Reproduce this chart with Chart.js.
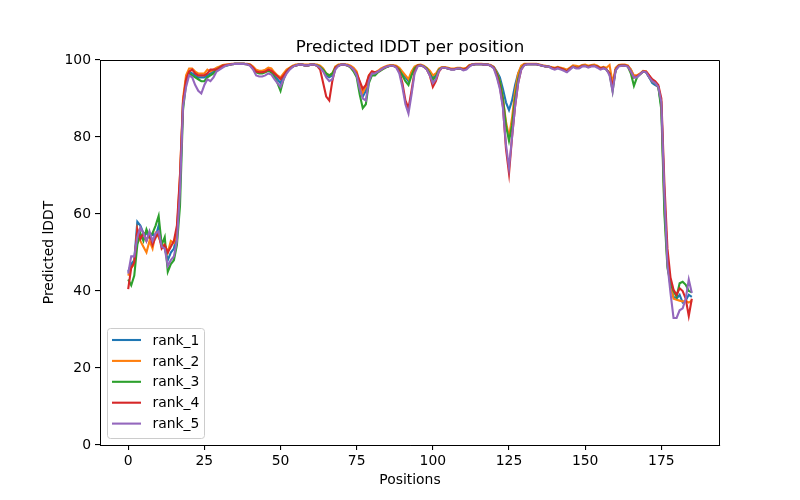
<!DOCTYPE html>
<html>
<head>
<meta charset="utf-8">
<script src="https://cdn.jsdelivr.net/npm/chart.js@4.4.1/dist/chart.umd.min.js"></script>
<style>
  html, body { margin: 0; padding: 0; background: #fff; }
  canvas { display: block; }
</style>
</head>
<body>
<canvas id="myChart" width="800" height="500"></canvas>
<script>
// chart data
var seriesNames = ['rank_1', 'rank_2', 'rank_3', 'rank_4', 'rank_5'];
var seriesColors = ['#1f77b4', '#ff7f0e', '#2ca02c', '#d62728', '#9467bd'];
var xTicks = [0, 25, 50, 75, 100, 125, 150, 175];
var yTicks = [0, 20, 40, 60, 80, 100];

var rank1 = [
  45, 47, 48, 58, 57, 55, 55, 54, 55, 54,
  57, 52, 51, 48, 50, 51, 55, 68, 89, 95,
  97, 96.5, 96, 95.5, 95.5, 95.5, 96, 96.5, 97, 97.5,
  98, 98.5, 98.5, 98.7, 98.9, 99, 99, 99, 99, 98.9,
  98.7, 98, 97.2, 96.8, 96.8, 97, 97.5, 97, 96, 95,
  94, 96, 97, 97.8, 98.3, 98.6, 98.8, 98.8, 98.6, 98.6,
  98.8, 98.8, 98.6, 98.2, 97.5, 96, 95.5, 96, 98, 98.6,
  98.8, 98.8, 98.6, 98.2, 97.5, 96.5, 93, 90.5, 92, 95.5,
  96.8, 96.5, 97, 97.5, 98, 98.3, 98.5, 98.5, 98.3, 97.8,
  96.5, 95.5, 94.5, 96.5, 98, 98.5, 98.6, 98.3, 97.8, 96.8,
  95.3, 96, 97.5, 98, 98, 97.8, 97.6, 97.6, 97.8, 97.8,
  97.5, 97.8, 98.5, 98.8, 98.9, 98.9, 98.9, 98.8, 98.8, 98.6,
  98.2, 97, 95.5, 92.5, 89, 87, 89.5, 93.5, 96.5, 98.2,
  98.8, 98.9, 98.9, 98.9, 98.9, 98.7, 98.5, 98.3, 98.3, 98,
  97.8, 98, 97.8, 97.5, 97, 97.8, 98.3, 98, 98, 98.5,
  98.5, 98.2, 98.5, 98.5, 98.3, 97.8, 98, 97.5, 96.5, 93,
  97.5, 98.5, 98.6, 98.6, 98.4, 97.5, 95.5, 95.8, 96.3, 97,
  96.8, 95.5, 94, 93.5, 93, 88, 64, 48, 41, 38.5,
  38, 39, 37, 37.5, 39, 38.5
];
var rank2 = [
  44, 46, 47, 56, 53, 51.5, 50, 53, 51, 55,
  54, 52, 52, 50, 53, 52.5, 55, 70, 90, 96,
  97.8, 97.8, 97, 96.5, 96.5, 96.5, 97.5, 97, 97.5, 98,
  98.3, 98.7, 98.8, 98.9, 99, 99, 99, 99, 99, 99,
  98.9, 98.3, 97.5, 97.2, 97.2, 97.5, 98, 97.8, 96.8, 96,
  95.5, 96.5, 97.5, 98, 98.5, 98.8, 98.9, 98.9, 98.8, 98.8,
  98.9, 98.9, 98.8, 98.5, 97.8, 96.5, 96, 96.5, 98.3, 98.8,
  98.9, 98.9, 98.8, 98.5, 98, 97, 94, 91.5, 93, 96,
  97, 96.8, 97.2, 97.8, 98.2, 98.5, 98.7, 98.7, 98.5, 98,
  97, 96, 95, 97, 98.3, 98.7, 98.8, 98.5, 98, 97.2,
  96, 96.5, 97.8, 98.2, 98.2, 98, 97.8, 97.8, 98, 98,
  97.8, 98, 98.7, 98.9, 99, 99, 99, 98.9, 98.9, 98.7,
  98.2, 96.8, 94.5, 90, 84, 80, 85, 92, 96.5, 98.5,
  99, 99, 99, 99, 99, 98.8, 98.6, 98.5, 98.3, 98.2,
  98, 98.2, 98, 97.8, 97.5, 98, 98.6, 98.5, 98.3, 98.7,
  98.8, 98.5, 98.7, 98.8, 98.5, 98, 98.2, 98, 98.7, 94,
  98, 98.7, 98.8, 98.8, 98.6, 97.5, 96, 96, 96.5, 97.2,
  97, 96, 94.5, 94, 93, 89, 62, 47, 42, 38,
  37.7, 37.5, 37.3, 37.5, 37, 37.5
];
var rank3 = [
  43, 41.5, 44, 52, 55, 53, 56, 54, 55, 57,
  59.5, 52, 54, 45, 47, 48, 52, 62, 87, 94,
  96.5, 96, 95.5, 95, 94.5, 94.5, 95.5, 96, 96.5, 97.5,
  98, 98.5, 98.5, 98.7, 98.9, 99, 99, 99, 99, 98.9,
  98.7, 97.8, 96.8, 96.5, 96.5, 96.8, 97.2, 96.8, 95.5, 94,
  92, 95, 97, 97.8, 98.3, 98.6, 98.8, 98.8, 98.6, 98.6,
  98.8, 98.8, 98.6, 98.2, 97.5, 96.5, 96, 96.5, 98, 98.6,
  98.8, 98.8, 98.6, 98, 97, 95.5, 91, 87.5, 88.5, 94,
  96, 96, 96.8, 97.3, 97.8, 98.2, 98.5, 98.5, 98.2, 97.5,
  96, 94.5, 93.5, 96, 97.8, 98.5, 98.6, 98.3, 97.8, 96.5,
  94.8, 95.8, 97.5, 98, 98, 97.8, 97.6, 97.6, 97.8, 97.8,
  97.5, 97.8, 98.5, 98.8, 98.9, 98.9, 98.9, 98.8, 98.8, 98.5,
  98, 96.5, 94.5, 90, 83, 79, 83, 90, 95, 97.8,
  98.8, 98.9, 98.9, 98.9, 98.9, 98.7, 98.5, 98.3, 98.3, 98,
  97.8, 98, 97.8, 97.5, 97, 97.8, 98.3, 98, 98, 98.5,
  98.5, 98.2, 98.5, 98.5, 98.3, 97.8, 98, 97.5, 96.5, 92,
  97.5, 98.5, 98.6, 98.6, 98.3, 96.5, 93.3, 95.5, 96.3, 97,
  96.8, 95.5, 94.5, 94, 93, 87, 60, 46, 42, 40,
  38.5, 42, 42.4, 41.6, 40, 39.7
];
var rank4 = [
  40.5, 46, 47.5, 56, 53.5, 55, 53, 55, 52, 54,
  55, 51, 52, 50, 51.5, 53, 57, 70, 89, 95,
  97, 97.5, 96.5, 96, 96, 96, 96.5, 97.5, 97.5, 97.5,
  98, 98.5, 98.7, 98.8, 98.9, 99, 99, 99, 99, 98.9,
  98.7, 98, 97, 96.8, 96.8, 97, 97.5, 97.2, 96.5, 95.8,
  95, 96, 97, 97.8, 98.3, 98.6, 98.8, 98.8, 98.6, 98.6,
  98.8, 98.8, 98.5, 97.5, 94, 90.5, 89.5, 94.5, 98, 98.5,
  98.8, 98.8, 98.6, 98.2, 97.5, 96.5, 94.5, 92.5, 93.5, 96,
  97, 96.8, 97, 97.5, 98, 98.3, 98.5, 98.5, 98.2, 97,
  94, 89.5, 87.5, 92, 97, 98.5, 98.6, 98.3, 97.5, 96,
  93, 94.5, 97, 98, 98, 97.8, 97.6, 97.6, 97.8, 97.8,
  97.5, 97.8, 98.5, 98.8, 98.9, 98.9, 98.9, 98.8, 98.8, 98.5,
  98, 96, 93, 88, 77, 70.5, 80, 88, 94, 97.5,
  98.8, 98.9, 98.9, 98.9, 98.9, 98.7, 98.5, 98.3, 98.3, 98,
  97.8, 98, 97.8, 97.5, 97, 97.8, 98.3, 98, 98, 98.5,
  98.5, 98.2, 98.5, 98.5, 98.3, 97.8, 98, 97.5, 96.5, 93,
  97.5, 98.5, 98.6, 98.6, 98.4, 97, 95.5, 95.8, 96.3, 97,
  97, 96, 95, 94.5, 93.5, 90, 68, 51, 43.5, 40.3,
  39, 40.7, 40, 38, 33.5, 38
];
var rank5 = [
  44.5, 49, 49, 54, 56.5, 55, 53, 55.5, 53, 55,
  55.5, 51.5, 51, 46.5, 48, 49, 53, 66, 88, 93,
  96, 95.5, 93.5, 92, 91.3, 93.5, 95, 94.5, 95.5, 97,
  97.5, 98, 98.5, 98.7, 98.9, 99, 99, 99, 99, 98.9,
  98.5, 97.5, 96, 95.7, 95.7, 96, 96.5, 96.2, 95, 94,
  93, 95, 96.5, 97.5, 98.2, 98.6, 98.8, 98.8, 98.6, 98.6,
  98.8, 98.8, 98.5, 98, 97, 95.5, 94.5, 95, 97.5, 98.5,
  98.8, 98.8, 98.6, 98.2, 97.5, 96, 92.5, 90, 89.5, 94.5,
  96.5, 96.5, 97, 97.5, 98, 98.3, 98.5, 98.5, 98, 96.5,
  93, 88.5, 86.1, 91, 96.5, 98.3, 98.6, 98.3, 97.5, 96,
  94, 95, 97.2, 98, 98, 97.8, 97.5, 97.5, 97.8, 97.8,
  97.3, 97.5, 98.3, 98.8, 98.9, 98.9, 98.9, 98.8, 98.8, 98.5,
  97.8, 95.5, 92.5, 87.5, 78, 72, 80, 88, 94, 97.5,
  98.6, 98.9, 98.9, 98.9, 98.9, 98.7, 98.5, 98.3, 98.3, 97.8,
  97.5, 97.8, 97.5, 97.2, 96.8, 97.5, 98.2, 97.8, 97.8, 98.3,
  98.4, 98, 98.3, 98.4, 98, 97.5, 97.8, 97.5, 96, 91.8,
  97.3, 98.3, 98.5, 98.5, 98.3, 97, 95.5, 95.5, 96.3, 97,
  96.8, 95.5, 94.5, 94, 93, 89, 65, 47, 39.5, 33,
  33, 35, 35.5, 38, 43, 39.5
];
var seriesValues = [rank1, rank2, rank3, rank4, rank5];
var positions = rank1.map(function (v, i) { return i; });

document.addEventListener('DOMContentLoaded', function () {
    var ctx = document.getElementById('myChart').getContext('2d');
    var FONT = 'DejaVu Sans, Liberation Sans, sans-serif';
    Chart.defaults.font.family = FONT;
    Chart.defaults.color = '#000';

    var datasets = seriesNames.map(function (name, k) {
        return {
            label: name,
            data: seriesValues[k].map(function (v, i) { return { x: positions[i], y: v }; }),
            borderColor: seriesColors[k],
            backgroundColor: seriesColors[k],
            borderWidth: 2.1,
            pointRadius: 0,
            tension: 0,
            fill: false,
            order: seriesNames.length - k // later ranks drawn on top like matplotlib
        };
    });

    // title, axis labels, top/right spines and the legend box drawn matplotlib style
    var decorations = {
        id: 'decorations',
        afterDraw: function (chart) {
            var c = chart.ctx, a = chart.chartArea;
            c.save();
            c.strokeStyle = '#000';
            c.lineWidth = 1;
            c.beginPath();
            c.moveTo(a.left, a.top + 0.5);
            c.lineTo(a.right - 0.5, a.top + 0.5);
            c.lineTo(a.right - 0.5, a.bottom);
            c.stroke();

            c.fillStyle = '#000';
            c.textAlign = 'center';
            c.font = '16.7px ' + FONT;
            c.textBaseline = 'alphabetic';
            c.fillText('Predicted lDDT per position', (a.left + a.right) / 2, a.top - 8.3);

            c.font = '13.9px ' + FONT;
            c.textBaseline = 'top';
            c.fillText('Positions', (a.left + a.right) / 2, 473);

            c.save();
            c.translate(49, (a.top + a.bottom) / 2);
            c.rotate(-Math.PI / 2);
            c.textBaseline = 'middle';
            c.fillText('Predicted lDDT', 0, 0);
            c.restore();

            // legend
            var bx = a.left + 7.5, by = 328.5, bw = 97, bh = 110, r = 3;
            c.beginPath();
            c.moveTo(bx + r, by);
            c.lineTo(bx + bw - r, by);
            c.quadraticCurveTo(bx + bw, by, bx + bw, by + r);
            c.lineTo(bx + bw, by + bh - r);
            c.quadraticCurveTo(bx + bw, by + bh, bx + bw - r, by + bh);
            c.lineTo(bx + r, by + bh);
            c.quadraticCurveTo(bx, by + bh, bx, by + bh - r);
            c.lineTo(bx, by + r);
            c.quadraticCurveTo(bx, by, bx + r, by);
            c.closePath();
            c.fillStyle = 'rgba(255,255,255,0.8)';
            c.fill();
            c.strokeStyle = '#cccccc';
            c.lineWidth = 1;
            c.stroke();

            c.textAlign = 'left';
            c.textBaseline = 'middle';
            c.font = '13.9px ' + FONT;
            seriesNames.forEach(function (name, k) {
                var yy = 340 + k * 20.9;
                c.strokeStyle = seriesColors[k];
                c.lineWidth = 2.1;
                c.beginPath();
                c.moveTo(112, yy);
                c.lineTo(141, yy);
                c.stroke();
                c.fillStyle = '#000';
                c.fillText(name, 152.5, yy + 1);
            });
            c.restore();
        }
    };

    var myChart = new Chart(ctx, {
        type: 'line',
        data: { datasets: datasets },
        options: {
            responsive: false,
            animation: false,
            layout: { padding: { left: 0, right: 80, top: 60, bottom: 0 } },
            plugins: {
                legend: { display: false },
                title: { display: false },
                tooltip: { enabled: false }
            },
            scales: {
                x: {
                    type: 'linear',
                    min: -9.25,
                    max: 194.25,
                    afterBuildTicks: function (s) { s.ticks = xTicks.map(function (v) { return { value: v }; }); },
                    afterFit: function (s) { s.height = 55; },
                    grid: { drawOnChartArea: false, color: '#000', tickLength: 5, lineWidth: 1.1 },
                    border: { display: true, color: '#000', width: 1 },
                    ticks: { font: { size: 13.9 }, padding: 3, maxRotation: 0, autoSkip: false }
                },
                y: {
                    type: 'linear',
                    min: 0,
                    max: 100,
                    afterBuildTicks: function (s) { s.ticks = yTicks.map(function (v) { return { value: v }; }); },
                    afterFit: function (s) { s.width = 100; },
                    grid: { drawOnChartArea: false, color: '#000', tickLength: 5, lineWidth: 1.1 },
                    border: { display: true, color: '#000', width: 1 },
                    ticks: { font: { size: 13.9 }, padding: 4, autoSkip: false }
                }
            }
        },
        plugins: [decorations]
    });
});
</script>
</body>
</html>
